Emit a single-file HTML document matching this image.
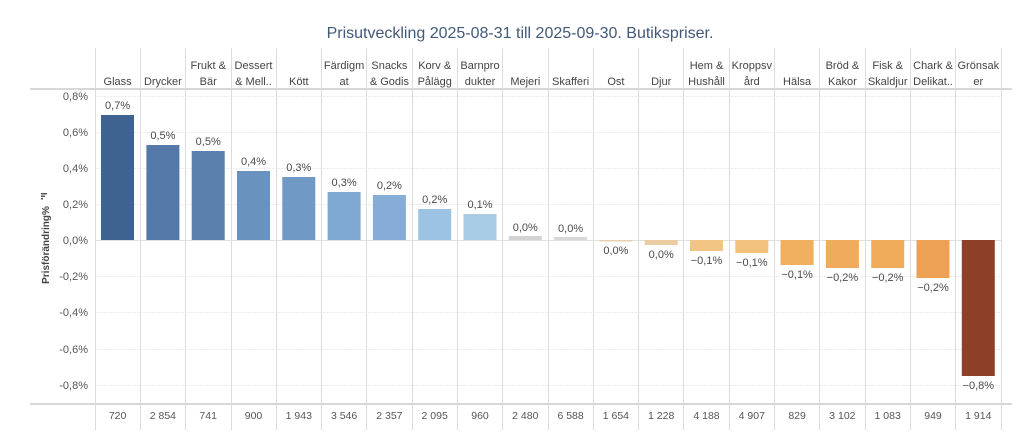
<!DOCTYPE html>
<html><head><meta charset="utf-8"><style>
html,body{margin:0;padding:0;background:#fff;}
svg{display:block;font-family:"Liberation Sans",sans-serif;}
</style></head><body>
<svg width="1024" height="436" viewBox="0 0 1024 436" xmlns="http://www.w3.org/2000/svg">
<text x="520" y="38" text-anchor="middle" font-size="16" fill="#41597a">Prisutveckling 2025-08-31 till 2025-09-30. Butikspriser.</text>
<g stroke="#ececec" stroke-width="1" stroke-dasharray="2,1">
<line x1="95" x2="1001" y1="96.5" y2="96.5"/>
<line x1="95" x2="1001" y1="132.5" y2="132.5"/>
<line x1="95" x2="1001" y1="168.5" y2="168.5"/>
<line x1="95" x2="1001" y1="204.5" y2="204.5"/>
<line x1="95" x2="1001" y1="276.5" y2="276.5"/>
<line x1="95" x2="1001" y1="312.5" y2="312.5"/>
<line x1="95" x2="1001" y1="349.5" y2="349.5"/>
<line x1="95" x2="1001" y1="385.5" y2="385.5"/>
</g>
<line x1="95" x2="1001" y1="240.5" y2="240.5" stroke="#e0e0e0"/>
<g stroke="#dcdcdc" stroke-width="1">
<line x1="95.5" x2="95.5" y1="48" y2="430"/><line x1="140.5" x2="140.5" y1="48" y2="430"/><line x1="185.5" x2="185.5" y1="48" y2="430"/><line x1="231.5" x2="231.5" y1="48" y2="430"/><line x1="276.5" x2="276.5" y1="48" y2="430"/><line x1="321.5" x2="321.5" y1="48" y2="430"/><line x1="366.5" x2="366.5" y1="48" y2="430"/><line x1="412.5" x2="412.5" y1="48" y2="430"/><line x1="457.5" x2="457.5" y1="48" y2="430"/><line x1="502.5" x2="502.5" y1="48" y2="430"/><line x1="548.5" x2="548.5" y1="48" y2="430"/><line x1="593.5" x2="593.5" y1="48" y2="430"/><line x1="638.5" x2="638.5" y1="48" y2="430"/><line x1="683.5" x2="683.5" y1="48" y2="430"/><line x1="729.5" x2="729.5" y1="48" y2="430"/><line x1="774.5" x2="774.5" y1="48" y2="430"/><line x1="819.5" x2="819.5" y1="48" y2="430"/><line x1="865.5" x2="865.5" y1="48" y2="430"/><line x1="910.5" x2="910.5" y1="48" y2="430"/><line x1="955.5" x2="955.5" y1="48" y2="430"/><line x1="1001.5" x2="1001.5" y1="48" y2="430"/>
</g>
<line x1="30" x2="1012" y1="89" y2="89" stroke="#d8d8d8" stroke-width="2"/>
<line x1="30" x2="1012" y1="404" y2="404" stroke="#d8d8d8" stroke-width="2"/>
<g font-size="11" fill="#444" text-anchor="middle">
<text x="117.6" y="85">Glass</text>
<text x="162.9" y="85">Drycker</text>
<text x="208.2" y="69">Frukt &amp;</text><text x="208.2" y="85">Bär</text>
<text x="253.5" y="69">Dessert</text><text x="253.5" y="85">&amp; Mell..</text>
<text x="298.8" y="85">Kött</text>
<text x="344.1" y="69">Färdigm</text><text x="344.1" y="85">at</text>
<text x="389.4" y="69">Snacks</text><text x="389.4" y="85">&amp; Godis</text>
<text x="434.7" y="69">Korv &amp;</text><text x="434.7" y="85">Pålägg</text>
<text x="480" y="69">Barnpro</text><text x="480" y="85">dukter</text>
<text x="525.3" y="85">Mejeri</text>
<text x="570.6" y="85">Skafferi</text>
<text x="615.9" y="85">Ost</text>
<text x="661.2" y="85">Djur</text>
<text x="706.5" y="69">Hem &amp;</text><text x="706.5" y="85">Hushåll</text>
<text x="751.8" y="69">Kroppsv</text><text x="751.8" y="85">ård</text>
<text x="797.1" y="85">Hälsa</text>
<text x="842.4" y="69">Bröd &amp;</text><text x="842.4" y="85">Kakor</text>
<text x="887.7" y="69">Fisk &amp;</text><text x="887.7" y="85">Skaldjur</text>
<text x="933" y="69">Chark &amp;</text><text x="933" y="85">Delikat..</text>
<text x="978.3" y="69">Grönsak</text><text x="978.3" y="85">er</text>
</g>
<g font-size="11" fill="#555" text-anchor="end">
<text x="88" y="100">0,8%</text><text x="88" y="136">0,6%</text><text x="88" y="172">0,4%</text><text x="88" y="208">0,2%</text><text x="88" y="244">0,0%</text><text x="88" y="280">-0,2%</text><text x="88" y="316">-0,4%</text><text x="88" y="353">-0,6%</text><text x="88" y="389">-0,8%</text>
</g>
<text transform="translate(49,245) rotate(-90)" font-size="10" font-weight="bold" fill="#444" text-anchor="middle">Prisförändring%</text>
<g fill="#555"><rect x="41" y="193" width="6" height="1.5"/><rect x="41" y="195.5" width="4" height="1.5"/><rect x="41" y="198" width="2" height="1.5"/></g>
<rect x="101" y="115" width="33" height="125" fill="#3e6391"/>
<rect x="146.4" y="145" width="33" height="95" fill="#5479a8"/>
<rect x="191.7" y="151" width="33" height="89" fill="#5b80ad"/>
<rect x="237" y="171" width="33" height="69" fill="#6a92bf"/>
<rect x="282.3" y="177" width="33" height="63" fill="#7099c5"/>
<rect x="327.6" y="192" width="33" height="48" fill="#80a9d2"/>
<rect x="372.9" y="195" width="33" height="45" fill="#86add5"/>
<rect x="418.2" y="209" width="33" height="31" fill="#9cc3e2"/>
<rect x="463.5" y="214" width="33" height="26" fill="#a7cae5"/>
<rect x="508.8" y="236" width="33" height="4" fill="#d3d3d3"/>
<rect x="554.1" y="237" width="33" height="3" fill="#d8d8d8"/>
<rect x="599.4" y="240" width="33" height="1.5" fill="#e6d0b0"/>
<rect x="644.7" y="240" width="33" height="5" fill="#ebcb9f"/>
<rect x="690" y="240" width="33" height="11" fill="#f3c585"/>
<rect x="735.3" y="240" width="33" height="13" fill="#f3c17e"/>
<rect x="780.6" y="240" width="33" height="25" fill="#f0ae5f"/>
<rect x="825.9" y="240" width="33" height="28" fill="#f0ac5c"/>
<rect x="871.2" y="240" width="33" height="28" fill="#f0ab5b"/>
<rect x="916.5" y="240" width="33" height="38" fill="#eda154"/>
<rect x="961.8" y="240" width="33" height="136" fill="#8e3f27"/>
<g font-size="11" fill="#4a4a4a" text-anchor="middle">
<text x="117.6" y="109">0,7%</text>
<text x="162.9" y="139">0,5%</text>
<text x="208.2" y="145">0,5%</text>
<text x="253.5" y="165">0,4%</text>
<text x="298.8" y="171">0,3%</text>
<text x="344.1" y="186">0,3%</text>
<text x="389.4" y="189">0,2%</text>
<text x="434.7" y="203">0,2%</text>
<text x="480" y="208">0,1%</text>
<text x="525.3" y="231">0,0%</text>
<text x="570.6" y="232">0,0%</text>
<text x="615.9" y="254">0,0%</text>
<text x="661.2" y="258">0,0%</text>
<text x="706.5" y="264">−0,1%</text>
<text x="751.8" y="266">−0,1%</text>
<text x="797.1" y="278">−0,1%</text>
<text x="842.4" y="281">−0,2%</text>
<text x="887.7" y="281">−0,2%</text>
<text x="933" y="291">−0,2%</text>
<text x="978.3" y="389">−0,8%</text>
</g>
<g font-size="10.5" fill="#555" text-anchor="middle">
<text x="117.6" y="419">720</text><text x="162.9" y="419">2 854</text><text x="208.2" y="419">741</text><text x="253.5" y="419">900</text><text x="298.8" y="419">1 943</text><text x="344.1" y="419">3 546</text><text x="389.4" y="419">2 357</text><text x="434.7" y="419">2 095</text><text x="480" y="419">960</text><text x="525.3" y="419">2 480</text><text x="570.6" y="419">6 588</text><text x="615.9" y="419">1 654</text><text x="661.2" y="419">1 228</text><text x="706.5" y="419">4 188</text><text x="751.8" y="419">4 907</text><text x="797.1" y="419">829</text><text x="842.4" y="419">3 102</text><text x="887.7" y="419">1 083</text><text x="933" y="419">949</text><text x="978.3" y="419">1 914</text>
</g>
</svg>
</body></html>
